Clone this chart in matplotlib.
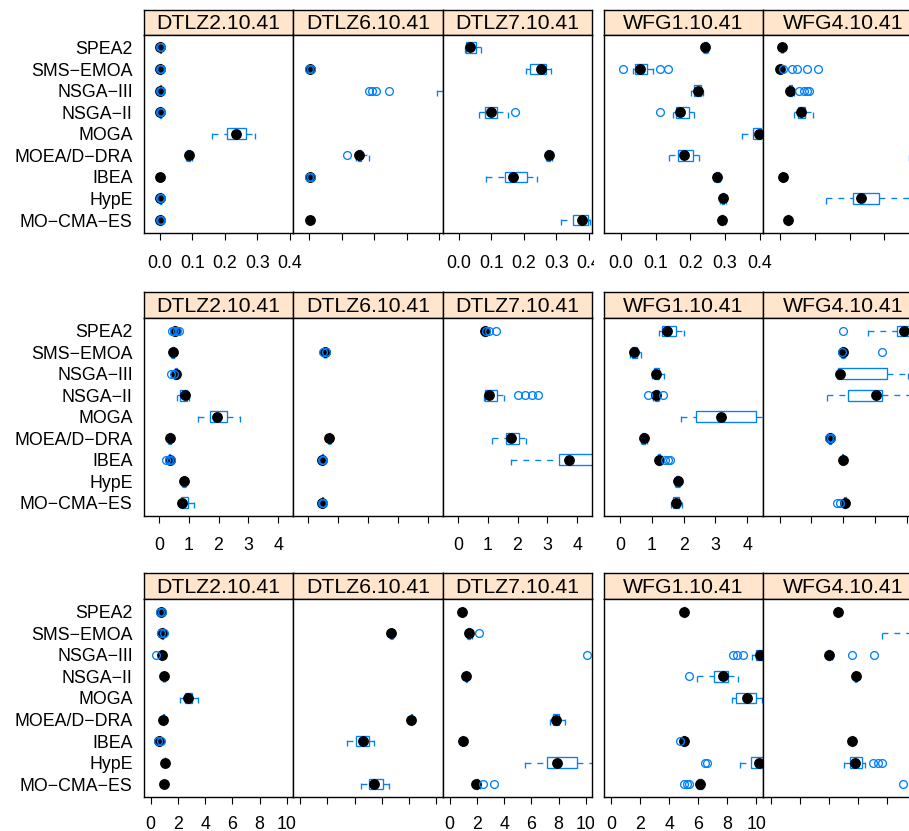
import matplotlib
matplotlib.use("Agg")
import matplotlib.pyplot as plt
from matplotlib.patches import Rectangle
from matplotlib.transforms import Bbox, TransformedBbox

plt.rcParams['font.family'] = ['Liberation Sans', 'DejaVu Sans']

# ---------------- data ----------------
algorithms = ["SPEA2", "SMS\u2212EMOA", "NSGA\u2212III", "NSGA\u2212II", "MOGA",
              "MOEA/D\u2212DRA", "IBEA", "HypE", "MO\u2212CMA\u2212ES"]
problems_dtlz = ["DTLZ2.10.41", "DTLZ6.10.41", "DTLZ7.10.41"]
problems_wfg = ["WFG1.10.41", "WFG4.10.41"]

row_ticks = [[0.0, 0.1, 0.2, 0.3, 0.4], [0, 1, 2, 3, 4], [0, 2, 4, 6, 8, 10]]
row_ticklabels = [["0.0", "0.1", "0.2", "0.3", "0.4"],
                  ["0", "1", "2", "3", "4"],
                  ["0", "2", "4", "6", "8", "10"]]
row_xlim = [(-0.05, 0.41), (-0.52, 4.5), (-0.53, 10.45)]

# each entry: (lower whisker, Q1, median, Q3, upper whisker, outliers)
# order: SPEA2, SMS-EMOA, NSGA-III, NSGA-II, MOGA, MOEA/D-DRA, IBEA, HypE, MO-CMA-ES
r1_dtlz2 = [(0.001, 0.002, 0.002, 0.003, 0.003, [0.0, 0.004]),
            (0.001, 0.002, 0.002, 0.003, 0.003, [0.0, 0.004]),
            (0.001, 0.002, 0.002, 0.003, 0.003, [0.0, 0.004]),
            (0.001, 0.002, 0.002, 0.003, 0.003, [0.0, 0.004]),
            (0.162, 0.207, 0.236, 0.265, 0.292, []),
            (0.080, 0.085, 0.090, 0.094, 0.099, []),
            (0.000, 0.001, 0.002, 0.002, 0.003, []),
            (0.001, 0.002, 0.002, 0.003, 0.003, [0.0, 0.004]),
            (0.001, 0.002, 0.002, 0.003, 0.003, [0.0, 0.004])]
r1_dtlz6 = [(0.48, 0.52, 0.55, 0.58, 0.62, []),
            (0.001, 0.002, 0.002, 0.003, 0.003, [0.0, 0.004]),
            (0.393, 0.44, 0.47, 0.50, 0.55, [0.184, 0.193, 0.206, 0.245]),
            (0.50, 0.55, 0.58, 0.60, 0.65, []),
            (0.60, 0.65, 0.70, 0.72, 0.78, []),
            (0.145, 0.149, 0.153, 0.160, 0.184, [0.116]),
            (0.001, 0.002, 0.002, 0.003, 0.003, [0.0, 0.004]),
            (0.45, 0.50, 0.52, 0.55, 0.60, []),
            (0.000, 0.001, 0.002, 0.002, 0.003, [])]
r1_dtlz7 = [(0.018, 0.022, 0.036, 0.052, 0.068, []),
            (0.206, 0.219, 0.252, 0.268, 0.284, []),
            (0.45, 0.50, 0.55, 0.60, 0.70, []),
            (0.061, 0.080, 0.100, 0.117, 0.152, [0.173]),
            (0.50, 0.55, 0.60, 0.65, 0.70, []),
            (0.268, 0.272, 0.277, 0.282, 0.287, []),
            (0.085, 0.143, 0.167, 0.209, 0.241, []),
            (0.50, 0.55, 0.60, 0.65, 0.70, []),
            (0.314, 0.352, 0.378, 0.397, 0.405, [])]
r1_wfg1 = [(0.236, 0.240, 0.244, 0.248, 0.252, []),
           (0.034, 0.041, 0.054, 0.075, 0.094, [0.0075, 0.114, 0.135]),
           (0.201, 0.212, 0.223, 0.230, 0.238, []),
           (0.149, 0.160, 0.171, 0.196, 0.210, [0.114]),
           (0.350, 0.382, 0.398, 0.405, 0.430, []),
           (0.140, 0.166, 0.183, 0.208, 0.226, []),
           (0.270, 0.274, 0.278, 0.282, 0.286, []),
           (0.287, 0.291, 0.295, 0.298, 0.302, []),
           (0.285, 0.289, 0.292, 0.295, 0.299, [])]
r1_wfg4 = [(0.002, 0.004, 0.005, 0.006, 0.008, []),
           (0.000, 0.000, 0.000, 0.002, 0.004, [0.0075, 0.034, 0.048, 0.077, 0.109]),
           (0.022, 0.026, 0.029, 0.033, 0.040, [0.053, 0.067, 0.077, 0.084]),
           (0.038, 0.050, 0.060, 0.072, 0.093, []),
           (0.45, 0.50, 0.55, 0.60, 0.65, []),
           (0.371, 0.42, 0.45, 0.48, 0.52, []),
           (0.004, 0.006, 0.0075, 0.009, 0.011, []),
           (0.132, 0.209, 0.233, 0.284, 0.40, []),
           (0.018, 0.020, 0.022, 0.024, 0.026, [])]

r2_dtlz2 = [(0.48, 0.50, 0.53, 0.55, 0.57, [0.43, 0.50, 0.60, 0.66]),
            (0.42, 0.45, 0.47, 0.49, 0.52, []),
            (0.52, 0.55, 0.58, 0.61, 0.64, [0.41, 0.49]),
            (0.60, 0.72, 0.86, 0.95, 1.00, []),
            (1.30, 1.70, 1.94, 2.29, 2.73, []),
            (0.30, 0.33, 0.36, 0.39, 0.42, []),
            (0.32, 0.34, 0.36, 0.38, 0.40, [0.25, 0.33, 0.42]),
            (0.76, 0.79, 0.83, 0.87, 0.90, []),
            (0.70, 0.74, 0.77, 0.98, 1.18, [])]
r2_dtlz6 = [(5.0, 5.5, 6.0, 6.5, 7.0, []),
            (0.53, 0.55, 0.56, 0.57, 0.59, [0.50, 0.58]),
            (5.0, 5.5, 6.0, 6.5, 7.0, []),
            (5.0, 5.5, 6.0, 6.5, 7.0, []),
            (5.0, 5.5, 6.0, 6.5, 7.0, []),
            (0.66, 0.68, 0.70, 0.72, 0.74, []),
            (0.45, 0.46, 0.47, 0.48, 0.49, [0.44, 0.50]),
            (5.0, 5.5, 6.0, 6.5, 7.0, []),
            (0.45, 0.46, 0.47, 0.48, 0.49, [0.44, 0.50])]
r2_dtlz7 = [(0.85, 0.88, 0.91, 0.94, 0.97, [0.95, 1.05, 1.27]),
            (5.0, 5.5, 6.0, 6.5, 7.0, []),
            (5.0, 5.5, 6.0, 6.5, 7.0, []),
            (0.88, 0.90, 1.05, 1.30, 1.53, [2.03, 2.25, 2.47, 2.70]),
            (5.0, 5.5, 6.0, 6.5, 7.0, []),
            (1.15, 1.62, 1.77, 2.06, 2.30, []),
            (1.78, 3.40, 3.73, 4.80, 5.50, []),
            (5.0, 5.5, 6.0, 6.5, 7.0, []),
            (5.0, 5.5, 6.0, 6.5, 7.0, [])]
r2_wfg1 = [(1.22, 1.33, 1.49, 1.75, 2.00, []),
           (0.30, 0.38, 0.44, 0.52, 0.66, []),
           (1.01, 1.07, 1.14, 1.22, 1.37, []),
           (1.05, 1.09, 1.14, 1.18, 1.22, [0.88, 1.36]),
           (1.91, 2.40, 3.19, 4.27, 5.20, []),
           (0.65, 0.70, 0.75, 0.80, 0.85, []),
           (1.15, 1.19, 1.22, 1.26, 1.30, [1.40, 1.51, 1.56]),
           (1.72, 1.77, 1.82, 1.86, 1.90, []),
           (1.60, 1.68, 1.75, 1.85, 1.95, [])]
r2_wfg4 = [(2.80, 3.71, 3.92, 4.60, 5.20, [2.00]),
           (1.95, 1.98, 2.00, 2.02, 2.05, [1.97, 3.22]),
           (1.82, 1.83, 1.91, 3.37, 4.03, []),
           (1.49, 2.15, 3.05, 3.21, 4.60, []),
           (6.0, 7.0, 8.0, 9.0, 10.0, []),
           (1.55, 1.57, 1.59, 1.61, 1.63, [1.56, 1.62]),
           (1.95, 1.97, 1.99, 2.01, 2.03, []),
           (6.0, 7.0, 8.0, 9.0, 10.0, []),
           (2.00, 2.02, 2.05, 2.08, 2.10, [1.82, 1.90])]

r3_dtlz2 = [(0.70, 0.73, 0.76, 0.79, 0.82, [0.66, 0.86]),
            (0.79, 0.82, 0.85, 0.88, 0.91, [0.75, 0.95]),
            (0.75, 0.78, 0.80, 0.83, 0.86, [0.39]),
            (0.92, 0.95, 0.98, 1.01, 1.04, []),
            (2.16, 2.50, 2.77, 3.00, 3.50, []),
            (0.87, 0.90, 0.93, 0.96, 0.99, []),
            (0.57, 0.60, 0.63, 0.66, 0.69, [0.53, 0.73]),
            (0.99, 1.02, 1.05, 1.08, 1.11, []),
            (0.92, 0.95, 0.98, 1.01, 1.04, [])]
r3_dtlz6 = [(12.0, 13.0, 14.0, 15.0, 16.0, []),
            (6.60, 6.65, 6.69, 6.73, 6.78, []),
            (12.0, 13.0, 14.0, 15.0, 16.0, []),
            (12.0, 13.0, 14.0, 15.0, 16.0, []),
            (12.0, 13.0, 14.0, 15.0, 16.0, []),
            (8.10, 8.13, 8.16, 8.19, 8.22, []),
            (3.43, 4.12, 4.61, 5.02, 5.44, []),
            (12.0, 13.0, 14.0, 15.0, 16.0, []),
            (4.46, 5.07, 5.39, 6.08, 6.54, [])]
r3_dtlz7 = [(0.85, 0.88, 0.91, 0.94, 0.97, []),
            (1.30, 1.35, 1.42, 1.50, 1.60, [2.14]),
            (11.0, 12.0, 13.0, 14.0, 15.0, [10.1]),
            (1.17, 1.20, 1.23, 1.26, 1.29, []),
            (12.0, 13.0, 14.0, 15.0, 16.0, []),
            (7.40, 7.60, 7.78, 8.00, 8.50, []),
            (0.90, 0.93, 0.96, 0.99, 1.02, []),
            (5.53, 7.17, 7.86, 9.38, 10.8, []),
            (1.80, 1.90, 1.96, 2.05, 2.20, [2.41, 3.24])]
r3_wfg1 = [(4.98, 5.01, 5.04, 5.07, 5.10, []),
           (12.0, 13.0, 14.0, 15.0, 16.0, []),
           (9.66, 10.0, 10.27, 10.6, 11.0, [8.40, 8.63, 9.08]),
           (5.93, 7.10, 7.71, 8.05, 8.70, [5.38]),
           (8.35, 8.58, 9.32, 10.0, 10.35, []),
           (12.0, 13.0, 14.0, 15.0, 16.0, []),
           (4.90, 4.95, 5.04, 5.10, 5.15, [4.75]),
           (8.90, 9.59, 10.18, 10.7, 11.0, [6.46, 6.62]),
           (5.90, 6.00, 6.12, 6.25, 6.35, [5.04, 5.20, 5.36])]
r3_wfg4 = [(4.54, 4.57, 4.60, 4.63, 4.66, []),
           (7.64, 11.0, 12.0, 13.0, 14.0, []),
           (3.90, 3.97, 4.03, 4.10, 4.20, [5.63, 7.12]),
           (5.80, 5.83, 5.86, 5.89, 5.92, []),
           (12.0, 13.0, 14.0, 15.0, 16.0, []),
           (12.0, 13.0, 14.0, 15.0, 16.0, []),
           (5.57, 5.60, 5.63, 5.66, 5.69, []),
           (5.06, 5.47, 5.77, 6.27, 6.50, [7.07, 7.37, 7.68]),
           (11.0, 12.0, 13.0, 14.0, 15.0, [9.12])]

rows_data = [[r1_dtlz2, r1_dtlz6, r1_dtlz7, r1_wfg1, r1_wfg4],
             [r2_dtlz2, r2_dtlz6, r2_dtlz7, r2_wfg1, r2_wfg4],
             [r3_dtlz2, r3_dtlz6, r3_dtlz7, r3_wfg1, r3_wfg4]]
panel_titles = problems_dtlz + problems_wfg

# ---------------- layout / style ----------------
W, H = 909, 831
fig = plt.figure(figsize=(W / 100, H / 100), dpi=100)
fig.patch.set_facecolor('white')

BLUE = '#0080ff'
STRIP_BG = '#ffe5cc'
DASH = (0, (4.5, 4.5))
BLUE_LW = 0.95

col_x = [(143.5, 293), (293, 442.5), (442.5, 592), (603.5, 763), (763, 922.5)]
row_y = [(10, 34.5, 233), (292, 318, 515.5), (573, 599, 797)]
row_pad = [10.5, 10.3, 9.0]
labelled_cols = {0, 2, 3}
dtlz_clip_px = 594


def add_ax(x0, y0, x1, y1):
    return fig.add_axes([x0 / W, 1 - y1 / H, (x1 - x0) / W, (y1 - y0) / H])


def draw_stats(ax, ypos, st):
    lo, q1, med, q3, hi, out = st
    h = 0.25
    ax.add_patch(Rectangle((q1, ypos - h), q3 - q1, 2 * h, fill=False,
                           ec=BLUE, lw=BLUE_LW, zorder=2))
    kw = dict(color=BLUE, lw=BLUE_LW, linestyle=DASH, zorder=2)
    ax.plot([lo, q1], [ypos, ypos], **kw)
    ax.plot([q3, hi], [ypos, ypos], **kw)
    ax.plot([lo, lo], [ypos - h, ypos + h], **kw)
    ax.plot([hi, hi], [ypos - h, ypos + h], **kw)
    ax.plot([med], [ypos], 'o', color='black', ms=7.8, mec='none', zorder=3)
    if out:
        ax.plot(out, [ypos] * len(out), 'o', mfc='none', mec=BLUE, ms=5.6,
                mew=BLUE_LW, zorder=4)


clip_bbox = TransformedBbox(Bbox([[0, 0], [dtlz_clip_px / W, 1]]), fig.transFigure)

for r, (ys0, ys1, yp1) in enumerate(row_y):
    for c, (x0, x1) in enumerate(col_x):
        # strip
        sax = add_ax(x0, ys0, x1, ys1)
        sax.set_facecolor(STRIP_BG)
        sax.set_xticks([])
        sax.set_yticks([])
        for sp in sax.spines.values():
            sp.set_linewidth(1.0)
        sax.text(0.5, 0.45, panel_titles[c], ha='center', va='center',
                 fontsize=15.3, transform=sax.transAxes)
        # panel
        ax = add_ax(x0, ys1, x1, yp1)
        ax.set_xlim(*row_xlim[r])
        ax.set_ylim(0.4, len(algorithms) + 0.6)
        for sp in ax.spines.values():
            sp.set_linewidth(1.0)
        for i, st in enumerate(rows_data[r][c]):
            draw_stats(ax, len(algorithms) - i, st)
        ax.set_xticks(row_ticks[r])
        ax.set_xticklabels(row_ticklabels[r])
        ax.tick_params(axis='x', direction='out', length=5, width=0.8,
                       labelsize=12.8, pad=row_pad[r],
                       labelbottom=(c in labelled_cols))
        ax.set_yticks(range(len(algorithms), 0, -1))
        if c == 0:
            ax.set_yticklabels(algorithms)
            ax.tick_params(axis='y', length=0, labelsize=12.8, pad=7.8)
        else:
            ax.tick_params(axis='y', length=0, labelleft=False)
        if c == 2:
            for lab in ax.get_xticklabels():
                lab.set_clip_box(clip_bbox)
                lab.set_clip_on(True)

fig.savefig('out.png', dpi=100)
